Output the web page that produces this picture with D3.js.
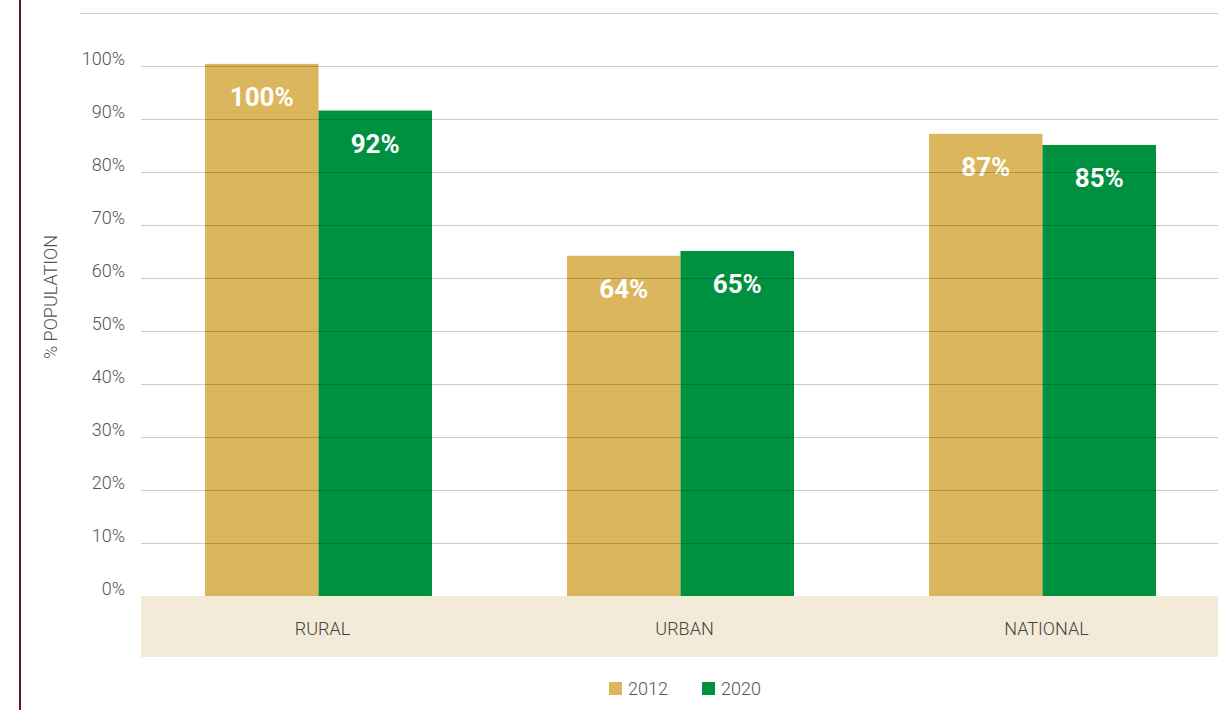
<html>
<head>
<meta charset="utf-8">
<script src="https://d3js.org/d3.v7.min.js"></script>
<style>
  body { margin: 0; background: #fff; }
  text { font-family: Roboto, sans-serif; }
</style>
</head>
<body>
<div id="container"></div>
<script>
// data
var categories = ["RURAL", "URBAN", "NATIONAL"];
var years = ["2012", "2020"];
var values2012 = [100.4, 64.2, 87.2];
var values2020 = [91.6, 65.1, 85.1];
var yTicks = [0, 10, 20, 30, 40, 50, 60, 70, 80, 90, 100];
var colors = ["#dcb65c", "#009140"];

var width = 1218, height = 710;

var svg = d3.select("#container").append("svg")
  .attr("width", width)
  .attr("height", height);

var y = d3.scaleLinear().domain([0, 100]).range([596, 66]);

// step ~362px, bars 113px wide each
var x0 = d3.scaleBand()
  .domain(categories)
  .range([132.6, 1228.4])
  .paddingInner(0.373)
  .paddingOuter(0.2);

var x1 = d3.scaleBand()
  .domain(years)
  .range([0, x0.bandwidth()]);

// left border line
svg.append("rect")
  .attr("x", 19).attr("y", 0)
  .attr("width", 2).attr("height", height)
  .attr("fill", "#5e1a26");

// top rule
svg.append("line")
  .attr("x1", 80).attr("x2", width)
  .attr("y1", 13.5).attr("y2", 13.5)
  .attr("stroke", "#d0d0d0");

// category band
svg.append("rect")
  .attr("x", 141).attr("y", 596)
  .attr("width", width - 141).attr("height", 61)
  .attr("fill", "#f3ead7");

// bars
var rows = categories.map(function(c, i) {
  return { cat: c, vals: [values2012[i], values2020[i]] };
});

var groups = svg.selectAll("g.grp")
  .data(rows).enter().append("g")
  .attr("class", "grp")
  .attr("transform", function(d) { return "translate(" + x0(d.cat) + ",0)"; });

groups.selectAll("rect")
  .data(function(d) { return d.vals.map(function(v, j) { return { year: years[j], v: v, j: j }; }); })
  .enter().append("rect")
  .attr("x", function(d) { return x1(d.year); })
  .attr("y", function(d) { return y(d.v); })
  .attr("width", x1.bandwidth())
  .attr("height", function(d) { return y(0) - y(d.v); })
  .attr("fill", function(d) { return colors[d.j]; });

// gridlines (drawn over bars, translucent)
svg.selectAll("line.grid")
  .data(yTicks.filter(function(t) { return t > 0; }))
  .enter().append("line")
  .attr("class", "grid")
  .attr("x1", 141).attr("x2", width)
  .attr("y1", function(d) { return Math.round(y(d)) + 0.5; })
  .attr("y2", function(d) { return Math.round(y(d)) + 0.5; })
  .attr("stroke", "rgba(0,0,0,0.2)");

// value labels
groups.selectAll("text.val")
  .data(function(d) { return d.vals.map(function(v, j) { return { year: years[j], v: v }; }); })
  .enter().append("text")
  .attr("class", "val")
  .attr("x", function(d) { return x1(d.year) + x1.bandwidth() / 2; })
  .attr("y", function(d) { return y(d.v) + 42; })
  .attr("text-anchor", "middle")
  .attr("fill", "#fff")
  .style("font-size", "26px")
  .style("font-weight", "700")
  .text(function(d) { return Math.round(d.v) + "%"; });

// y tick labels
svg.selectAll("text.tick")
  .data(yTicks).enter().append("text")
  .attr("class", "tick")
  .attr("x", 125)
  .attr("y", function(d) { return y(d); })
  .attr("dy", "-0.05em")
  .attr("text-anchor", "end")
  .attr("fill", "#555")
  .style("font-size", "18px")
  .style("font-weight", "300")
  .text(function(d) { return d + "%"; });

// y title
svg.append("text")
  .attr("transform", "translate(57,297) rotate(-90)")
  .attr("text-anchor", "middle")
  .attr("fill", "#555")
  .style("font-size", "18px")
  .style("font-weight", "300")
  .text("% POPULATION");

// category labels
svg.selectAll("text.cat")
  .data(categories).enter().append("text")
  .attr("class", "cat")
  .attr("x", function(d) { return x0(d) + x0.bandwidth() / 2 + 4; })
  .attr("y", 635)
  .attr("text-anchor", "middle")
  .attr("fill", "#444")
  .style("font-size", "18px")
  .style("font-weight", "300")
  .text(function(d) { return d; });

// legend
var legendX = [609, 702];
var legend = svg.selectAll("g.leg")
  .data(years).enter().append("g")
  .attr("class", "leg")
  .attr("transform", function(d, i) { return "translate(" + legendX[i] + ",682)"; });

legend.append("rect")
  .attr("width", 13).attr("height", 13)
  .attr("fill", function(d, i) { return colors[i]; });

legend.append("text")
  .attr("x", 19).attr("y", 13)
  .attr("fill", "#555")
  .style("font-size", "18px")
  .style("font-weight", "300")
  .text(function(d) { return d; });
</script>
</body>
</html>
